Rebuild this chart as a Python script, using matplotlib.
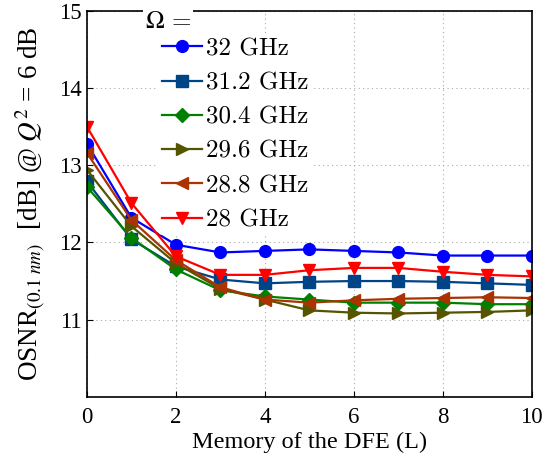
import numpy as np
import matplotlib
matplotlib.use('Agg')
import matplotlib.pyplot as plt

plt.rcParams['font.family'] = ['Liberation Serif', 'DejaVu Serif']
plt.rcParams['mathtext.fontset'] = 'stix'

# memory of the DFE
L = [0, 1, 2, 3, 4, 5, 6, 7, 8, 9, 10]

# OSNR required for each symbol rate
osnr_32 = [13.28, 12.32, 11.97, 11.87, 11.89, 11.91, 11.89, 11.87, 11.83, 11.83, 11.83]
osnr_312 = [12.79, 12.04, 11.69, 11.52, 11.47, 11.49, 11.50, 11.50, 11.49, 11.47, 11.45]
osnr_304 = [12.72, 12.06, 11.65, 11.38, 11.30, 11.26, 11.22, 11.22, 11.22, 11.20, 11.20]
osnr_296 = [12.94, 12.21, 11.73, 11.40, 11.26, 11.12, 11.09, 11.08, 11.09, 11.10, 11.12]
osnr_288 = [13.16, 12.29, 11.77, 11.42, 11.26, 11.22, 11.25, 11.27, 11.28, 11.29, 11.28]
osnr_28 = [13.50, 12.51, 11.82, 11.58, 11.58, 11.64, 11.67, 11.67, 11.62, 11.58, 11.56]

labels = ['32 GHz', '31.2 GHz', '30.4 GHz', '29.6 GHz', '28.8 GHz', '28 GHz']
series = [osnr_32, osnr_312, osnr_304, osnr_296, osnr_288, osnr_28]
colors = ['#0000ff', '#004488', '#008000', '#555500', '#aa3300', '#ff0000']
markers = ['o', 's', 'D', '>', '<', 'v']

fig, ax = plt.subplots(figsize=(5.5, 4.68), dpi=100)
fig.subplots_adjust(left=0.158, right=0.967, top=0.977, bottom=0.152)

for y, lab, c, m in zip(series, labels, colors, markers):
    ms = 7 if m == 'D' else 8.5
    ax.plot(L, y, '-', marker=m, color=c, label=lab, lw=1.6, markersize=ms)

ax.set_xlim(0, 10)
ax.set_ylim(10, 15)
ax.set_xticks([0, 2, 4, 6, 8, 10])
ax.set_yticks([11, 12, 13, 14, 15])
ax.tick_params(direction='in', labelsize=16.5, length=4)
ax.tick_params(axis='x', pad=7)
ax.grid(True, linestyle=(0, (1, 3)), color='#aaaaaa', lw=0.8)
for s in ax.spines.values():
    s.set_linewidth(1.2)

ax.set_xlabel('Memory of the DFE (L)', fontsize=17.5, labelpad=3)
ax.set_ylabel(r'OSNR$_{(0.1\ nm)}$  [dB] @ $Q^2$ = 6 dB', fontsize=19.5, labelpad=9)

leg = ax.legend(loc='upper left', bbox_to_anchor=(0.16, 0.94),
                prop={'family': 'cmr10', 'size': 18}, frameon=True, framealpha=1,
                edgecolor='none', handlelength=1.6, handletextpad=0.15,
                labelspacing=0.47, borderpad=0.15, borderaxespad=0)
ax.text(0.13, 0.972, r'$\Omega$ =', transform=ax.transAxes, fontsize=18,
        family='cmr10', va='center', ha='left',
        bbox=dict(facecolor='white', edgecolor='none', pad=1))

plt.savefig('out.png', dpi=100)
